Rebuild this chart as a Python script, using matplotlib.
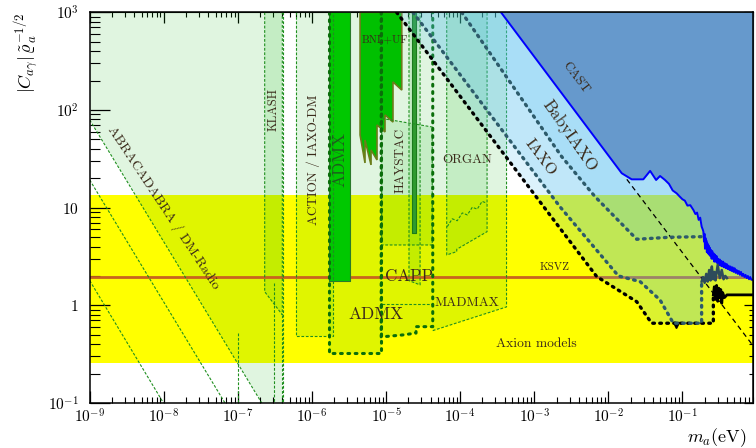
import matplotlib
matplotlib.use('Agg')
import matplotlib.pyplot as plt
import numpy as np
from matplotlib.ticker import LogLocator, FixedLocator, FixedFormatter, NullFormatter

plt.rcParams['font.family'] = ['cmr10']
plt.rcParams['mathtext.fontset'] = 'cm'
plt.rcParams['axes.formatter.use_mathtext'] = True
plt.rcParams['axes.unicode_minus'] = False

# axion model band, KSVZ line
band = [0.257, 13.5]
ksvz = 1.97

# ABRACADABRA / DM-Radio lines: start at m=1e-9, reach C=0.1 at abra_end
abra_top = [79, 19.2, 1.79]
abra_end = [2.1e-7, 6.7e-8, 9.9e-9]
abra_m = [1e-9, 1e-9, 4.0e-7, 4.0e-7, 2.1e-7]
abra_C = [79, 1000, 1000, 0.1, 0.1]

klash_m = [2.30e-7, 2.30e-7, 3.98e-7, 3.98e-7]
klash_C = [1000, 1.38, 0.80, 1000]
extra_v_m = [1.0e-7, 3.08e-7]
extra_v_C = [0.52, 1.69]

action_m = [6.04e-7, 6.04e-7, 1.94e-6, 1.94e-6]
action_C = [1000, 0.49, 0.49, 1000]

admx_box_m = [1.70e-6, 1.70e-6, 8.47e-6, 8.47e-6]
admx_box_C = [1000, 0.324, 0.324, 1000]
admx_bar_m = [1.70e-6, 3.27e-6]
admx_bar_C = 1.78

capp_m = [8.6e-6, 8.6e-6, 1.69e-5, 2.54e-5, 2.54e-5, 4.27e-5, 4.27e-5]
capp_C = [1000, 0.475, 0.498, 0.52, 0.605, 0.605, 1000]

haystac_m = [8.75e-6, 4.2e-5, 4.2e-5, 8.75e-6]
haystac_C = [82, 67, 4.15, 4.15]
haystac_low = 1.03
haystac_bar_m = [2.24e-5, 2.54e-5]
haystac_bar_C = 5.5
narrow_m = [2.04e-5, 2.04e-5, 2.88e-5, 2.88e-5]
narrow_C = [1000, 1.79, 1.62, 1000]

bnl_m = [4.46e-6, 1.63e-5, 1.63e-5, 1.24e-5, 1.24e-5, 9.68e-6, 9.68e-6, 7.55e-6,
         7.55e-6, 6.27e-6, 6.27e-6, 5.2e-6, 5.2e-6, 4.46e-6]
bnl_C = [1000, 1000, 160, 194, 75.3, 89, 59.6, 70.3, 30.8, 39, 27.4, 49.3, 28.7, 55.5]

madmax_m = [4.27e-5, 4.23e-4, 4.23e-4, 4.27e-5]
madmax_C = [0.551, 0.964, 1000, 1000]

organ_m = [6.59e-5, 6.59e-5, 9.0e-5, 9.0e-5, 2.31e-4, 2.31e-4]
organ_C = [1000, 3.28, 3.55, 3.75, 5.68, 1000]
organ_zig_m = [6.71e-5, 7.83e-5, 9.14e-5, 1.07e-4, 1.25e-4, 1.46e-4, 1.70e-4, 1.98e-4, 2.31e-4]
organ_zig_C = [6.40, 7.69, 7.35, 8.83, 8.43, 10.1, 9.66, 11.6, 11.1]

# helioscopes
iaxop_m = [1.39e-5, 2.23e-3, 6.98e-3, 0.0242, 0.0385, 0.262, 0.262]
iaxop_C = [1000, 6.15, 1.97, 1.09, 0.656, 0.656, 1.28]
iaxop_noise_m = [0.262, 0.27, 0.28, 0.29, 0.30, 0.31, 0.32, 0.33, 0.34, 0.35, 0.37, 0.40, 0.9]
iaxop_noise_C = [1.28, 1.55, 1.15, 1.6, 1.1, 1.5, 1.2, 1.45, 1.05, 1.35, 1.2, 1.28, 1.28]
iaxop_min = [0.0822, 0.63]

iaxo_m = [2.31e-5, 2.23e-3, 0.0137, 0.0269, 0.050, 0.0755, 0.182, 0.182]
iaxo_C = [1000, 10.2, 2.0, 1.75, 1.135, 0.656, 0.656, 1.75]
iaxo_noise_m = [0.182, 0.19, 0.20, 0.21, 0.22, 0.23, 0.24, 0.25, 0.26, 0.27, 0.28, 0.30, 0.32, 0.34, 0.36, 0.38, 0.40]
iaxo_noise_C = [1.75, 1.95, 1.7, 2.1, 1.75, 2.3, 1.8, 2.5, 1.85, 2.2, 1.8, 2.6, 1.9, 2.3, 1.85, 2.0, 1.9]

baby_m = [1.05e-4, 2.35e-3, 6.6e-3, 0.0242, 0.068, 0.192]
baby_C = [1000, 33.3, 13.0, 4.75, 4.98, 5.05]

cast_m = [3.56e-4, 0.0152, 0.0207, 0.0297, 0.0367, 0.0442, 0.050, 0.0583, 0.066, 0.074,
          0.0839, 0.092, 0.10, 0.108, 0.117, 0.128, 0.141, 0.150, 0.158, 0.166,
          0.174, 0.182,
          0.188, 0.192, 0.196, 0.199, 0.202, 0.205, 0.208, 0.211, 0.214, 0.218,
          0.222, 0.226, 0.230, 0.234, 0.238, 0.243, 0.248, 0.253, 0.258, 0.264,
          0.270, 0.276, 0.282, 0.289, 0.296, 0.303, 0.311, 0.319, 0.327, 0.336,
          0.345, 0.355, 0.365, 0.375, 0.386, 0.397, 0.409, 0.421, 0.434, 0.447,
          0.461, 0.476, 0.491, 0.507, 0.524, 0.541, 0.559, 0.578, 0.598, 0.619,
          0.641, 0.664, 0.688, 0.713, 0.739, 0.766, 0.794, 0.823, 0.853, 0.9]
cast_C = [1000, 22.5, 19.5, 19.5, 23.8, 19.2, 21.1, 19.2, 17.5, 15.0,
          14.0, 13.0, 12.2, 11.8, 10.5, 10.6, 9.46, 8.6, 8.9, 7.5,
          7.9, 6.4,
          6.0, 5.7, 4.5, 5.4, 3.8, 4.9, 3.9, 4.6, 3.5, 4.3,
          3.4, 4.1, 3.3, 3.9, 3.2, 3.7, 3.0, 3.6, 3.0, 3.4,
          2.8, 3.3, 2.8, 3.2, 2.7, 3.0, 2.6, 2.95, 2.55, 2.85,
          2.5, 2.8, 2.45, 2.7, 2.4, 2.65, 2.35, 2.55, 2.3, 2.5,
          2.25, 2.45, 2.2, 2.4, 2.15, 2.3, 2.1, 2.25, 2.05, 2.2,
          2.0, 2.1, 1.95, 2.05, 1.9, 2.0, 1.85, 1.95, 1.83, 1.82]
dash_line_m = [0.0178, 0.9]
dash_line_C = [19.5, 0.386]

xticks = [1e-9, 1e-8, 1e-7, 1e-6, 1e-5, 1e-4, 1e-3, 1e-2, 1e-1]
xlabels = ['$10^{-9}$', '$10^{-8}$', '$10^{-7}$', '$10^{-6}$', '$10^{-5}$',
           '$10^{-4}$', '$10^{-3}$', '$10^{-2}$', '$10^{-1}$']
yticks = [0.1, 1, 10, 100, 1000]
ylabels = ['$10^{-1}$', '$1$', '$10$', '$10^{2}$', '$10^{3}$']

pale = '#00b400'
pa = 0.12
blue = '#50bef0'
ba = 0.2
dash_kw = dict(color='#1f8f1f', lw=0.8, ls=(0, (2.5, 1.5)))
dot_kw = dict(color='#0a6e0a', lw=2.2, ls=(0, (0.6, 1.8)), dash_capstyle='round')
tc = '#3a2a1a'

fig = plt.figure(figsize=(7.56, 4.48), dpi=100)
ax = fig.add_axes([0.1187, 0.1004, 0.8774, 0.8721])
ax.set_xscale('log')
ax.set_yscale('log')
ax.set_xlim(1e-9, 0.9)
ax.set_ylim(0.1, 1000)

ax.axhspan(band[0], band[1], color='#ffff00', lw=0, zorder=0)

# pale green haloscope regions
for m, C in [(abra_m, abra_C), (klash_m, klash_C), (action_m, action_C),
             (admx_box_m, admx_box_C), (capp_m, capp_C), (haystac_m, haystac_C),
             (narrow_m, narrow_C), (madmax_m, madmax_C), (organ_m, organ_C)]:
    ax.fill(m, C, color=pale, alpha=pa, lw=0, zorder=1)

for c0, m1 in zip(abra_top, abra_end):
    ax.plot([1e-9, m1], [c0, 0.1], zorder=3, **dash_kw)
ax.plot(klash_m, klash_C, zorder=3, **dash_kw)
ax.plot([3.98e-7, 3.98e-7], [0.80, 0.1], zorder=3, **dash_kw)
ax.plot([4.05e-7, 4.05e-7], [1000, 0.1], zorder=3, **dash_kw)
for m, C in zip(extra_v_m, extra_v_C):
    ax.plot([m, m], [C, 0.1], zorder=3, **dash_kw)
ax.plot(action_m, action_C, zorder=3, **dash_kw)
ax.plot(haystac_m + [haystac_m[0]], haystac_C + [haystac_C[0]], zorder=3, **dash_kw)
ax.plot([haystac_m[0], haystac_m[1]], [haystac_low, haystac_low], zorder=3, **dash_kw)
ax.plot(narrow_m, narrow_C, zorder=3, **dash_kw)
ax.plot(madmax_m[:3], madmax_C[:3], zorder=3, **dash_kw)
ax.plot(organ_m, organ_C, zorder=3, **dash_kw)
ax.plot(organ_zig_m, organ_zig_C, zorder=3, **dash_kw)

ax.axhline(ksvz, color='#c8641e', lw=2.0, zorder=2)

ax.fill_between(admx_bar_m, admx_bar_C, 1000, color='#00c800', ec='#2a7a2a', lw=0.8, zorder=2.5)
ax.fill(bnl_m, bnl_C, color='#00c000', ec='#6b7d1a', lw=1.2, zorder=2.5)
ax.fill_between(haystac_bar_m, haystac_bar_C, 1000, color='#2f9a2f', ec='#1a7a1a', lw=0.8, zorder=2.5)

ax.plot(admx_box_m, admx_box_C, zorder=3, **dot_kw)
ax.plot(capp_m, capp_C, zorder=3, **dot_kw)

# helioscope projections
ax.fill(iaxop_m + iaxop_noise_m[1:] + [0.9], iaxop_C + iaxop_noise_C[1:] + [1000],
        color=blue, alpha=ba, lw=0, zorder=4)
ax.fill(iaxo_m + iaxo_noise_m[1:] + [0.9, 0.9], iaxo_C + iaxo_noise_C[1:] + [1.9, 1000],
        color=blue, alpha=ba, lw=0, zorder=4)
ax.fill(baby_m + [0.9, 0.9], baby_C + [5.05, 1000], color=blue, alpha=ba, lw=0, zorder=4)

ax.fill_between(cast_m, cast_C, 1000, color='#6699cc', lw=0, zorder=5)
ax.plot(cast_m, cast_C, color='#0000ff', lw=1.4, zorder=6)
ax.plot(dash_line_m, dash_line_C, color='black', lw=0.9, ls=(0, (4, 3)), zorder=6)

ax.plot(iaxop_m, iaxop_C, color='black', lw=2.4, ls=(0, (0.5, 1.6)), dash_capstyle='round', zorder=6)
ax.plot(iaxop_noise_m, iaxop_noise_C, color='black', lw=2.0, zorder=6)
ax.plot(iaxop_min[0], iaxop_min[1], marker='v', color='black', ms=5, zorder=6)
ax.plot(iaxo_m, iaxo_C, color='#2d5b6b', lw=2.4, ls=(0, (0.5, 1.6)), dash_capstyle='round', zorder=6)
ax.plot(iaxo_noise_m, iaxo_noise_C, color='#2d4b5b', lw=1.8, zorder=6)
ax.plot(baby_m, baby_C, color='#2d5b6b', lw=2.4, ls=(0, (0.5, 1.6)), dash_capstyle='round', zorder=6)

# labels
txt = dict(color=tc, ha='center', va='center', rotation_mode='anchor', zorder=7)
ax.text(1.0e-8, 10.0, 'ABRACADABRA / DM-Radio', fontsize=10.0, rotation=-56.5, **txt)
ax.text(3.0e-7, 100, 'KLASH', fontsize=9, rotation=90, **txt)
ax.text(1.04e-6, 30.8, 'ACTION / IAXO-DM', fontsize=9.5, rotation=90, **txt)
ax.text(2.39e-6, 31, 'ADMX', fontsize=12.5, rotation=90, color='#1d5e1d', ha='center', va='center', zorder=7)
ax.text(9.68e-6, 521, 'BNL+UF', fontsize=7.8, **txt)
ax.text(1.55e-5, 30.8, 'HAYSTAC', fontsize=9.4, rotation=90, **txt)
ax.text(1.23e-4, 30.8, 'ORGAN', fontsize=9.5, **txt)
ax.text(2.04e-5, 1.97, 'CAPP', fontsize=12.2, **txt)
ax.text(7.28e-6, 0.80, 'ADMX', fontsize=12.5, **txt)
ax.text(1.25e-4, 1.05, 'MADMAX', fontsize=9.6, **txt)
ax.text(1.91e-3, 2.45, 'KSVZ', fontsize=8, **txt)
ax.text(1.06e-3, 0.403, 'Axion models', fontsize=9.7, **txt)
ax.text(3.67e-3, 213, 'CAST', fontsize=9.5, rotation=-53, **txt)
ax.text(3.05e-3, 54.2, 'BabyIAXO', fontsize=12.2, rotation=-55, **txt)
ax.text(1.2e-3, 33.0, 'IAXO', fontsize=11.5, rotation=-53, **txt)

# axes and ticks
ax.xaxis.set_major_locator(FixedLocator(xticks))
ax.xaxis.set_major_formatter(FixedFormatter(xlabels))
ax.yaxis.set_major_locator(FixedLocator(yticks))
ax.yaxis.set_major_formatter(FixedFormatter(ylabels))
ax.xaxis.set_minor_locator(LogLocator(base=10, subs=np.arange(2, 10), numticks=100))
ax.yaxis.set_minor_locator(LogLocator(base=10, subs=np.arange(2, 10), numticks=100))
ax.xaxis.set_minor_formatter(NullFormatter())
ax.yaxis.set_minor_formatter(NullFormatter())
ax.tick_params(axis='x', which='major', direction='in', length=8.6, width=0.9, labelsize=11, pad=3)
ax.tick_params(axis='x', which='minor', direction='in', length=4.3, width=0.8)
ax.tick_params(axis='y', which='major', direction='in', length=14.4, width=0.9, labelsize=11, pad=8)
ax.tick_params(axis='y', which='minor', direction='in', length=7.2, width=0.8)
for s in ax.spines.values():
    s.set_linewidth(1.1)
    s.set_zorder(8)

sx = ax.secondary_xaxis('top')
sx.xaxis.set_major_locator(FixedLocator(xticks))
sx.xaxis.set_minor_locator(LogLocator(base=10, subs=np.arange(2, 10), numticks=100))
sx.xaxis.set_major_formatter(NullFormatter())
sx.xaxis.set_minor_formatter(NullFormatter())
sx.tick_params(which='major', direction='in', length=7.9, width=0.9)
sx.tick_params(which='minor', direction='in', length=3.6, width=0.8)
sy = ax.secondary_yaxis('right')
sy.yaxis.set_major_locator(FixedLocator(yticks))
sy.yaxis.set_minor_locator(LogLocator(base=10, subs=np.arange(2, 10), numticks=100))
sy.yaxis.set_major_formatter(NullFormatter())
sy.yaxis.set_minor_formatter(NullFormatter())
sy.tick_params(which='major', direction='in', length=6.5, width=0.9)
sy.tick_params(which='minor', direction='in', length=2.9, width=0.8)

ax.set_ylabel(r'$|C_{a\gamma}|\,\tilde{\varrho}_a^{-1/2}$', fontsize=13, loc='top')
ax.yaxis.set_label_coords(-0.072, 1.0)
ax.set_xlabel(r'$m_a$(eV)', fontsize=13, loc='right')
ax.xaxis.set_label_coords(0.99, -0.06)

fig.savefig('out.png', dpi=100)
